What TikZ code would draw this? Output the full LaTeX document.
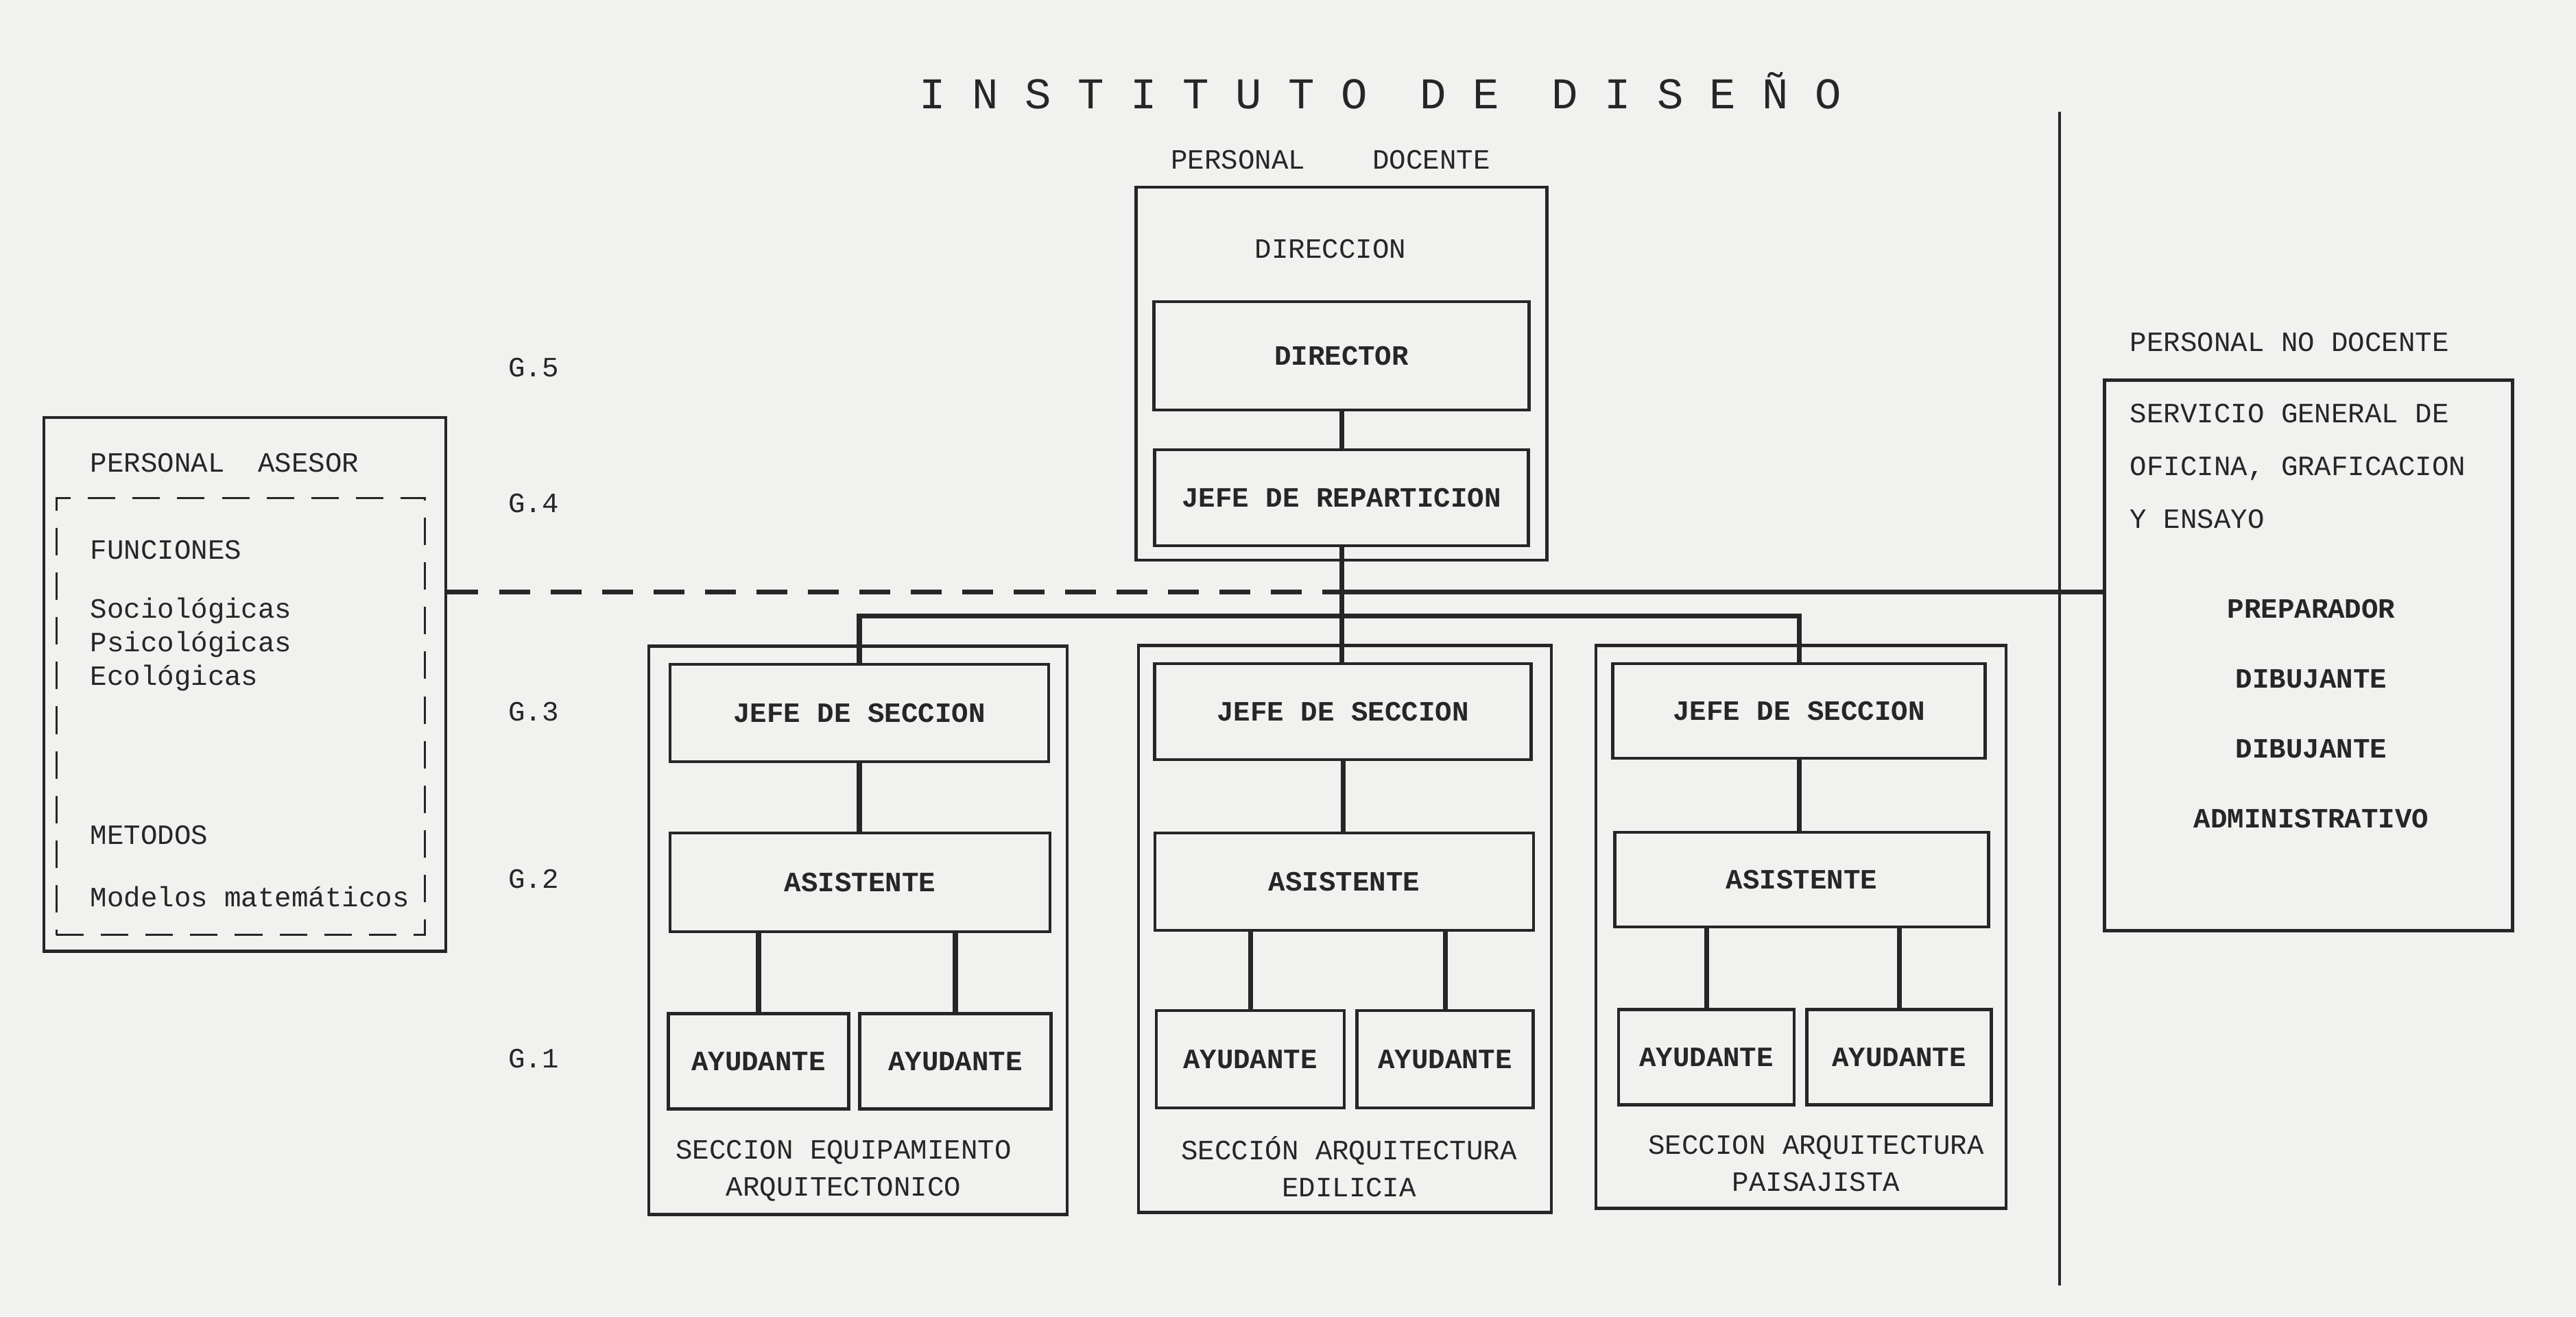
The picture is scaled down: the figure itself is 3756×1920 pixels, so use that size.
\documentclass[tikz,border=0pt]{standalone}
\usepackage{fontspec}
\setmainfont{Liberation Mono}
\definecolor{paper}{RGB}{241,241,239}
\definecolor{ink}{RGB}{38,38,38}
\tikzset{
  box/.style={draw=ink, line width=1.3pt, inner sep=0pt, text=ink,
    font=\bfseries\fontsize{11.6}{14}\selectfont},
  frame/.style={draw=ink, line width=1.3pt, inner sep=0pt},
  txt/.style={text=ink, inner sep=0pt, font=\fontsize{11.6}{14}\selectfont},
  link/.style={draw=ink, line width=2pt},
  dashlink/.style={draw=ink, line width=2pt, dash pattern=on 0.45cm off 0.3cm}
}
\begin{document}
\begin{tikzpicture}[x=0.01cm, y=-0.01cm]
  \fill[paper] (0,0) rectangle (3756,1920);
  \useasboundingbox (0,0) rectangle (3756,1920);

  % title
  \node[txt, font=\fontsize{18.2}{20}\selectfont] (title) at (2013,132)
    {I N S T I T U T O\ \ D E\ \ D I S E Ñ O};

  % personal docente
  \node[txt] (docente) at (1940,233) {PERSONAL\ \ \ \ DOCENTE};
  \node[frame, minimum width=5.99cm, minimum height=5.44cm] (dirbox) at (1956,545) {};
  \node[txt] (direccion) at (1940,363) {DIRECCION};
  \node[box, minimum width=5.47cm, minimum height=1.58cm] (director) at (1956,519) {DIRECTOR};
  \node[box, minimum width=5.45cm, minimum height=1.40cm] (jeferep) at (1956,726) {JEFE DE REPARTICION};
  \draw[link] (director) -- (jeferep);

  % grados
  \node[txt] (g5) at (778,536) {G.5};
  \node[txt] (g4) at (778,734) {G.4};
  \node[txt] (g3) at (778,1038) {G.3};
  \node[txt] (g2) at (778,1282) {G.2};
  \node[txt] (g1) at (778,1544) {G.1};

  % personal asesor
  \node[frame, minimum width=5.86cm, minimum height=7.78cm] (asesor) at (357,998) {};
  \node[draw=ink, line width=1pt, dash pattern=on 0.4cm off 0.25cm,
    minimum width=5.37cm, minimum height=6.37cm] (asesorin) at (351,1045) {};
  \node[txt, anchor=west] (asesortit) at (131,675) {PERSONAL\ \ ASESOR};
  \node[txt, anchor=west] (funciones) at (131,802) {FUNCIONES};
  \node[txt, anchor=west, align=left, font=\fontsize{11.6}{13.9}\selectfont] (ramas) at (131,940)
    {Sociológicas\\Psicológicas\\Ecológicas};
  \node[txt, anchor=west] (metodos) at (131,1218) {METODOS};
  \node[txt, anchor=west] (modelos) at (131,1308) {Modelos matemáticos};

  % secciones
  \node[frame, minimum width=6.10cm, minimum height=8.28cm] (sec1) at (1251,1357) {};
  \node[frame, minimum width=6.02cm, minimum height=8.26cm] (sec2) at (1961,1355) {};
  \node[frame, minimum width=5.98cm, minimum height=8.21cm] (sec3) at (2626,1352) {};

  \node[box, minimum width=5.52cm, minimum height=1.42cm] (jefe1) at (1253,1040) {JEFE DE SECCION};
  \node[box, minimum width=5.54cm, minimum height=1.44cm] (asis1) at (1254,1287) {ASISTENTE};
  \node[box, minimum width=2.63cm, minimum height=1.39cm] (ayu1a) at (1106,1548) {AYUDANTE};
  \node[box, minimum width=2.79cm, minimum height=1.39cm] (ayu1b) at (1393,1548) {AYUDANTE};
  \node[txt, align=center, font=\fontsize{11.6}{15.4}\selectfont] (lab1) at (1230,1708)
    {SECCION EQUIPAMIENTO\\ARQUITECTONICO};

  \node[box, minimum width=5.49cm, minimum height=1.40cm] (jefe2) at (1958,1038) {JEFE DE SECCION};
  \node[box, minimum width=5.52cm, minimum height=1.42cm] (asis2) at (1960,1286) {ASISTENTE};
  \node[box, minimum width=2.74cm, minimum height=1.42cm] (ayu2a) at (1823,1545) {AYUDANTE};
  \node[box, minimum width=2.57cm, minimum height=1.42cm] (ayu2b) at (2107,1545) {AYUDANTE};
  \node[txt, align=center, font=\fontsize{11.6}{15.4}\selectfont] (lab2) at (1967,1702)
    {SECCIÓN ARQUITECTURA\\EDILICIA};

  \node[box, minimum width=5.43cm, minimum height=1.38cm] (jefe3) at (2623,1037) {JEFE DE SECCION};
  \node[box, minimum width=5.45cm, minimum height=1.38cm] (asis3) at (2627,1283) {ASISTENTE};
  \node[box, minimum width=2.56cm, minimum height=1.39cm] (ayu3a) at (2488,1542) {AYUDANTE};
  \node[box, minimum width=2.69cm, minimum height=1.39cm] (ayu3b) at (2769,1542) {AYUDANTE};
  \node[txt, align=center, font=\fontsize{11.6}{15.4}\selectfont] (lab3) at (2648,1697)
    {SECCION ARQUITECTURA\\PAISAJISTA};

  \draw[link] (jefe1.south) -- (jefe1.south |- asis1.north);
  \draw[link] (ayu1a.north) -- (ayu1a.north |- asis1.south);
  \draw[link] (ayu1b.north) -- (ayu1b.north |- asis1.south);
  \draw[link] (jefe2.south) -- (jefe2.south |- asis2.north);
  \draw[link] (ayu2a.north) -- (ayu2a.north |- asis2.south);
  \draw[link] (ayu2b.north) -- (ayu2b.north |- asis2.south);
  \draw[link] (jefe3.south) -- (jefe3.south |- asis3.north);
  \draw[link] (ayu3a.north) -- (ayu3a.north |- asis3.south);
  \draw[link] (ayu3b.north) -- (ayu3b.north |- asis3.south);

  % personal no docente
  \draw[line width=1.3pt, ink] (3003,163) -- (3003,1875);
  \node[txt, anchor=west] (nodocente) at (3105,499) {PERSONAL NO DOCENTE};
  \node[frame, minimum width=5.95cm, minimum height=8.02cm] (servbox) at (3366,956) {};
  \node[txt, anchor=west, align=left, font=\fontsize{11.6}{21.9}\selectfont] (servicio) at (3105,680)
    {SERVICIO GENERAL DE\\OFICINA, GRAFICACION\\Y ENSAYO};
  \node[txt, align=center, font=\bfseries\fontsize{11.6}{29}\selectfont] (staff) at (3370,1041)
    {PREPARADOR\\DIBUJANTE\\DIBUJANTE\\ADMINISTRATIVO};

  % lineas de dependencia
  \coordinate (hub) at (1956,863);
  \coordinate (bus) at (1956,898);
  \draw[link] (jeferep.south) -- (jeferep.south |- jefe2.north);
  \draw[link] (jefe1.north) |- (bus) -| (jefe3.north);
  \draw[link] (hub) -- (servbox.west |- hub);
  \draw[dashlink] (asesor.east |- hub) -- (hub);
\end{tikzpicture}
\end{document}
